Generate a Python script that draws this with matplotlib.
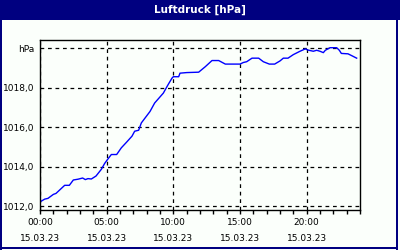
import matplotlib
matplotlib.use("Agg")
import matplotlib.pyplot as plt
from matplotlib.patches import Rectangle

# hours since 00:00 on 15.03.23, pressure in hPa
hours = [0, 0.35, 0.6, 1.0, 1.2, 1.85, 2.2, 2.5, 2.85, 3.2, 3.4, 3.6, 3.85, 4.2, 4.6,
         4.85, 5.1, 5.35, 5.75, 6.1, 6.5, 6.9, 7.1, 7.4, 7.6, 8.25, 8.6, 9.25, 9.6, 9.9,
         10.0, 10.4, 10.5, 11.0, 11.9, 12.4, 12.9, 13.4, 13.9, 15.0, 15.25, 15.5, 15.9,
         16.4, 16.75, 17.2, 17.6, 18.0, 18.25, 18.6, 19.0, 19.5, 19.9, 20.1, 20.5, 20.75,
         21.0, 21.25, 21.4, 21.75, 22.25, 22.45, 22.6, 23.1, 23.4, 23.75]
pressure = [1012.22, 1012.36, 1012.4, 1012.6, 1012.65, 1013.06, 1013.06, 1013.33, 1013.37,
            1013.43, 1013.35, 1013.4, 1013.38, 1013.53, 1013.87, 1014.17, 1014.4, 1014.62,
            1014.62, 1014.96, 1015.25, 1015.55, 1015.8, 1015.85, 1016.22, 1016.8, 1017.23,
            1017.73, 1018.15, 1018.49, 1018.56, 1018.56, 1018.74, 1018.77, 1018.79, 1019.07,
            1019.38, 1019.38, 1019.2, 1019.2, 1019.28, 1019.32, 1019.5, 1019.5, 1019.32,
            1019.2, 1019.2, 1019.36, 1019.5, 1019.5, 1019.68, 1019.85, 1019.97, 1019.91,
            1019.85, 1019.9, 1019.85, 1019.78, 1019.9, 1020.03, 1020.03, 1019.9, 1019.74,
            1019.72, 1019.62, 1019.5]

y_ticks = [1012, 1014, 1016, 1018, 1020]
y_labels = ["1012,0", "1014,0", "1016,0", "1018,0", "hPa"]
x_ticks = [0, 5, 10, 15, 20]
x_labels = ["00:00\n15.03.23", "05:00\n15.03.23", "10:00\n15.03.23",
            "15:00\n15.03.23", "20:00\n15.03.23"]

navy = "#000080"
bg = "#fbfffb"

fig = plt.figure(figsize=(4, 2.5), dpi=100, facecolor=bg)
ax = fig.add_axes([0.1, 0.16, 0.8, 0.68])
ax.set_facecolor(bg)

ax.plot(hours, pressure, color="#0000ff", lw=1)

ax.set_xlim(0, 24)
ax.set_ylim(1011.81, 1020.42)
ax.set_xticks(x_ticks)
ax.set_xticklabels(x_labels, fontsize=6.5, linespacing=1.9)
ax.set_xticks(range(0, 25), minor=True)
ax.set_yticks(y_ticks)
ax.set_yticklabels(y_labels, fontsize=6.5)

ax.tick_params(axis="x", which="both", direction="out", length=3, width=1, pad=3)
ax.tick_params(axis="y", length=0, pad=4)
ax.grid(True, color="black", linestyle=(0, (3, 3)), linewidth=0.9)
for s in ax.spines.values():
    s.set_color("black")
    s.set_linewidth(1)

# title bar and frame
fig.patches.append(Rectangle((0, 1 - 20 / 250), 1, 20 / 250, transform=fig.transFigure,
                             facecolor=navy, edgecolor="none", zorder=0))
fig.patches.append(Rectangle((0, 0), 2 / 400, 1, transform=fig.transFigure,
                             facecolor=navy, edgecolor="none"))
fig.patches.append(Rectangle((396 / 400, 0), 2 / 400, 1, transform=fig.transFigure,
                             facecolor=navy, edgecolor="none"))
fig.patches.append(Rectangle((0, 1.5 / 250), 398 / 400, 2 / 250, transform=fig.transFigure,
                             facecolor=navy, edgecolor="none"))
fig.text(0.5, 1 - 10 / 250, "Luftdruck [hPa]", color="white", fontsize=7.5,
         fontweight="bold", ha="center", va="center")

fig.savefig("out.png", dpi=100, facecolor=bg)
